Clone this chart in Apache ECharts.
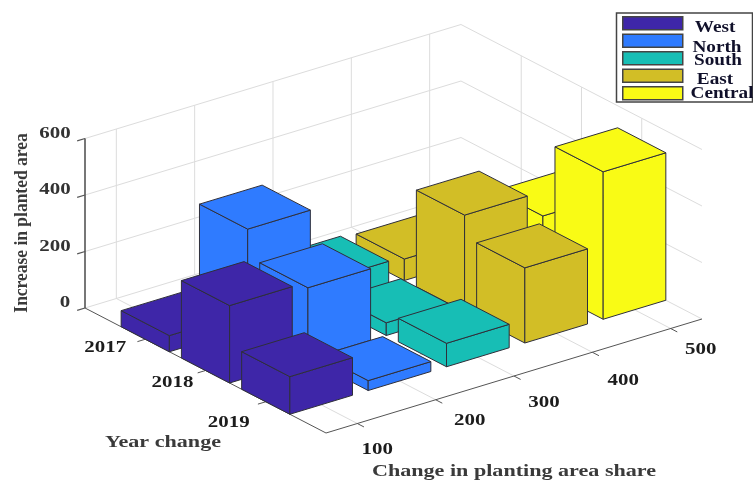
<!DOCTYPE html>
<html>
<head>
<meta charset="utf-8">
<style>html,body{margin:0;padding:0;background:#fff}#chart{width:753px;height:480px}</style>
<script src="https://cdn.jsdelivr.net/npm/echarts@6/dist/echarts.min.js"></script>
</head>
<body>
<div id="chart"></div>
<script>
// Categories and tick labels
const shareTicks = [100, 200, 300, 400, 500];
const yearTicks = [2017, 2018, 2019];
const heightTicks = [0, 200, 400, 600];
const regions = ['West', 'North', 'South', 'East', 'Central'];

// Increase in planted area by region, one value per year
const westValues = [57, 274, 133];
const northValues = [350, 253, 35];
const southValues = [85, 45, 83];
const eastValues = [76, 342, 266];
const centralValues = [80, 255, 522];

const regionValues = [westValues, northValues, southValues, eastValues, centralValues];
const regionColors = ['#3E26A8', '#2F7BFF', '#17BEB5', '#D2BE26', '#F9FB15'];

// Oblique projection of the (share, year, height) box onto the canvas
const ORIGIN = [85, 308];
const STEP_SHARE = [78.33, -23.75];
const STEP_YEAR = [60.25, 31.25];
const PX_PER_UNIT = 0.2825;
const SHARE_MIN = 0.6, SHARE_MAX = 5.4, YEAR_MIN = 0, YEAR_MAX = 4, HEIGHT_MAX = 600;
const BAR_HALF = 0.4;

function project(s, y, h) {
  const ds = s - SHARE_MIN;
  return [
    ORIGIN[0] + ds * STEP_SHARE[0] + y * STEP_YEAR[0],
    ORIGIN[1] + ds * STEP_SHARE[1] + y * STEP_YEAR[1] - h * PX_PER_UNIT
  ];
}

function renderBar(params, api) {
  const s = api.value(0), y = api.value(1), h = api.value(2);
  const s0 = s - BAR_HALF, s1 = s + BAR_HALF, y0 = y - BAR_HALF, y1 = y + BAR_HALF;
  const style = { fill: api.visual('color'), stroke: '#2f2f3a', lineWidth: 1, lineJoin: 'round' };
  const face = pts => ({ type: 'polygon', shape: { points: pts }, style });
  return {
    type: 'group',
    children: [
      face([project(s0, y1, 0), project(s0, y0, 0), project(s0, y0, h), project(s0, y1, h)]),
      face([project(s0, y1, 0), project(s1, y1, 0), project(s1, y1, h), project(s0, y1, h)]),
      face([project(s0, y0, h), project(s1, y0, h), project(s1, y1, h), project(s0, y1, h)])
    ]
  };
}

const series = regions.map((name, i) => ({
  type: 'custom',
  name,
  coordinateSystem: 'none',
  z: 10 + regions.length - i,
  itemStyle: { color: regionColors[i] },
  renderItem: renderBar,
  silent: true,
  data: regionValues[i].map((v, r) => [i + 1, r + 1, v])
}));

// Walls, floor, gridlines and axis lines
const GRID = '#dcdcdc', AXIS = '#555555';
function seg(a, b, stroke, lineWidth) {
  return {
    type: 'line', silent: true, z: 0,
    shape: { x1: a[0], y1: a[1], x2: b[0], y2: b[1] },
    style: { stroke, lineWidth }
  };
}
const lines = [];
shareTicks.forEach((_, i) => {
  const s = i + 1;
  lines.push(seg(project(s, YEAR_MIN, 0), project(s, YEAR_MAX, 0), GRID, 1));
  lines.push(seg(project(s, YEAR_MIN, 0), project(s, YEAR_MIN, HEIGHT_MAX), GRID, 1));
});
yearTicks.forEach((_, i) => {
  const y = i + 1;
  lines.push(seg(project(SHARE_MIN, y, 0), project(SHARE_MAX, y, 0), GRID, 1));
  lines.push(seg(project(SHARE_MAX, y, 0), project(SHARE_MAX, y, HEIGHT_MAX), GRID, 1));
});
heightTicks.forEach(h => {
  lines.push(seg(project(SHARE_MIN, YEAR_MIN, h), project(SHARE_MAX, YEAR_MIN, h), GRID, 1));
  lines.push(seg(project(SHARE_MAX, YEAR_MIN, h), project(SHARE_MAX, YEAR_MAX, h), GRID, 1));
  // height tick
  lines.push(seg(project(SHARE_MIN, YEAR_MIN, h), project(SHARE_MIN - 0.1, YEAR_MIN, h), AXIS, 1.2));
});
shareTicks.forEach((_, i) => {
  lines.push(seg(project(i + 1, YEAR_MAX, 0), project(i + 1, YEAR_MAX + 0.11, 0), AXIS, 1));
});
yearTicks.forEach((_, i) => {
  lines.push(seg(project(SHARE_MIN, i + 1, 0), project(SHARE_MIN - 0.1, i + 1, 0), AXIS, 1));
});
lines.push(seg(project(SHARE_MIN, YEAR_MIN, 0), project(SHARE_MIN, YEAR_MAX, 0), AXIS, 1));
lines.push(seg(project(SHARE_MIN, YEAR_MAX, 0), project(SHARE_MAX, YEAR_MAX, 0), AXIS, 1));
lines.push(seg(project(SHARE_MIN, YEAR_MIN, 0), project(SHARE_MIN, YEAR_MIN, HEIGHT_MAX), AXIS, 1.6));

// Text helpers: bold serif, widened along its baseline
const SERIF = '"Liberation Serif", "Times New Roman", serif';
function label(text, x, y, size, stretch, fill, rotation) {
  return {
    type: 'text', silent: true, z: 1,
    x, y, scaleX: stretch, rotation: rotation || 0,
    style: {
      text, fill, align: 'center', verticalAlign: 'middle',
      font: `bold ${size}px ${SERIF}`
    }
  };
}

// Tick label placement relative to each tick's base point
const shareLabelShift = [[20, 26.5], [34, 20.5], [30, 26.5], [31, 28.5], [30, 21.5]];
const yearLabelShift = [[-40, 8.5], [-33, 12], [-37, 21]];
const TICK_SIZE = 16.5, TICK_STRETCH = 1.27, TICK_INK = '#1c1c1c', TITLE_INK = '#3a3a3a';
const texts = [];
shareTicks.forEach((t, i) => {
  const p = project(i + 1, YEAR_MAX, 0);
  texts.push(label(String(t), p[0] + shareLabelShift[i][0], p[1] + shareLabelShift[i][1], TICK_SIZE, TICK_STRETCH, TICK_INK));
});
yearTicks.forEach((t, i) => {
  const p = project(SHARE_MIN, i + 1, 0);
  texts.push(label(String(t), p[0] + yearLabelShift[i][0], p[1] + yearLabelShift[i][1], TICK_SIZE, TICK_STRETCH, TICK_INK));
});
heightTicks.forEach(t => {
  const p = project(SHARE_MIN, YEAR_MIN, t);
  const half = String(t).length * 5;
  texts.push(label(String(t), p[0] - 15 - half, p[1] - 5, TICK_SIZE, TICK_STRETCH, '#333333'));
});
texts.push(label('Increase in planted area', 22, 223, 18, 0.97, TITLE_INK, Math.PI / 2));
texts.push(label('Year change', 163, 442.5, 17, 1.3, TITLE_INK));
texts.push(label('Change in planting area share', 514, 472, 17, 1.3, TITLE_INK));

// Legend frame and region names beside the swatches
const legendNamePlaces = [[715, 28], [717, 48], [718, 61], [715, 80], [722, 94]];
const legendInk = '#10102a';
const frame = {
  type: 'rect', silent: true, z: 0,
  shape: { x: 616.5, y: 13, width: 136, height: 89 },
  style: { fill: '#fff', stroke: '#444', lineWidth: 1.5 }
};
regions.forEach((name, i) => {
  const t = label(name, legendNamePlaces[i][0], legendNamePlaces[i][1], 17, 1.13, legendInk);
  t.z = 6;
  texts.push(t);
});

const chart = echarts.init(document.getElementById('chart'), null, { renderer: 'canvas' });
chart.setOption({
  animation: false,
  backgroundColor: '#fff',
  legend: {
    left: 622,
    top: 16,
    orient: 'vertical',
    data: regions,
    icon: 'rect',
    itemWidth: 60,
    itemHeight: 13,
    itemGap: 3,
    padding: 0,
    selectedMode: false,
    formatter: () => ' ',
    itemStyle: { borderColor: '#444', borderWidth: 1.5 },
    textStyle: { fontSize: 1 }
  },
  graphic: { elements: [...lines, frame, ...texts] },
  series
});
</script>
</body>
</html>
